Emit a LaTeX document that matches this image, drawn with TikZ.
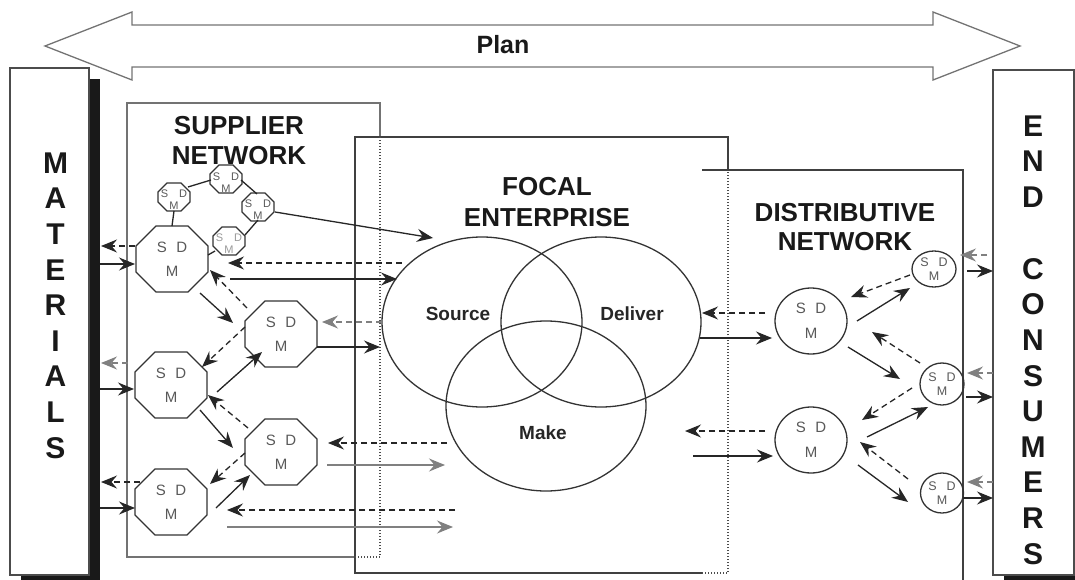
\documentclass[tikz,border=0pt]{standalone}
\usepackage{fontspec}
\setmainfont{Liberation Sans}
\usetikzlibrary{arrows.meta,shapes.geometric,calc}
\tikzset{
  ln/.style={line width=1.3pt, draw=black!85},
  arr/.style={ln, -{Stealth[length=16pt,width=13pt,inset=5.5pt]}},
  darr/.style={arr, dash pattern=on 6pt off 4pt},
  lite/.style={draw=black!50},
  boxline/.style={line width=1.4pt, draw=black!75},
  hid/.style={line width=1.1pt, draw=black!70, dash pattern=on 1pt off 2pt},
  octline/.style={line width=1.3pt, draw=black!80, line join=miter},
  bigoct/.style={rectangle, minimum width=72pt, minimum height=66pt, inner sep=0pt, outer sep=0pt, align=center, text=black!65, font=\fontsize{15}{24}\selectfont},
  smoct/.style={rectangle, minimum width=32pt, minimum height=28pt, inner sep=0pt, outer sep=0pt},
  smtext/.style={inner sep=0pt, align=center, text=black!65, font=\fontsize{11}{12}\selectfont},
  bigcirc/.style={ellipse, line width=1.3pt, draw=black!80, minimum width=72pt, minimum height=66pt, inner sep=0pt, align=center, text=black!65, font=\fontsize{15}{25}\selectfont},
  smcirc/.style={ellipse, line width=1.3pt, draw=black!80, inner sep=0pt, align=center, text=black!65, font=\fontsize{12.5}{13.5}\selectfont},
  venn/.style={ellipse, line width=1.3pt, draw=black!80, minimum width=200pt, minimum height=170pt, inner sep=0pt},
  ttl/.style={font=\fontsize{26}{31}\selectfont\bfseries, text=black!90, align=center, inner sep=0pt},
  vlab/.style={font=\fontsize{19}{22}\selectfont\bfseries, text=black!85, inner sep=0pt},
  sidelab/.style={font=\fontsize{30}{35.6}\selectfont\bfseries, text=black!90, align=center, inner sep=0pt},
  sidebox/.style={draw=black!70, line width=1.3pt, fill=white, inner sep=0pt, outer sep=0pt}
}
\newcommand{\sdmoct}[2]{%
  \draw[octline] ($(#1.north west)+(#2,0)$) -- ($(#1.north east)+(-#2,0)$) -- ($(#1.north east)+(0,#2)$) -- ($(#1.south east)+(0,-#2)$) -- ($(#1.south east)+(-#2,0)$) -- ($(#1.south west)+(#2,0)$) -- ($(#1.south west)+(0,-#2)$) -- ($(#1.north west)+(0,#2)$) -- cycle;}
\begin{document}
\begin{tikzpicture}[x=1pt,y=-1pt]
\useasboundingbox (0,0) rectangle (1075,580);
% Plan arrow
\draw[line width=1.3pt, draw=black!55, line join=miter] (45,46) -- (132,12) -- (132,25) -- (933,25) -- (933,12) -- (1020,46) -- (933,80) -- (933,67) -- (132,67) -- (132,80) -- cycle;
\node[font=\fontsize{25}{30}\selectfont\bfseries, text=black!90, inner sep=0pt] (plan) at (503,45) {Plan};
% side boxes
\fill[black!90] (21,79) rectangle (100,586);
\node[sidebox, minimum width=79pt, minimum height=507pt] (MAT) at (49.5,321.5) {};
\node[sidelab] (matlab) at (55.5,305.5) {M\\A\\T\\E\\R\\I\\A\\L\\S};
\fill[black!90] (1004,81) rectangle (1085,586);
\node[sidebox, minimum width=81pt, minimum height=505pt] (ENDC) at (1033.5,322.5) {};
\node[sidelab] (endlab) at (1033,340) {E\\N\\D\\[36.2pt]C\\O\\N\\S\\U\\M\\E\\R\\S};
% network boxes
\fill[white] (127,103) rectangle (380,557);
\fill[white] (355,137) rectangle (728,573);
\fill[white] (702,170) rectangle (963,590);
\draw[boxline, draw=black!55] (380,137) -- (380,103) -- (127,103) -- (127,557) -- (355,557);
\draw[boxline] (728,170) -- (728,137) -- (355,137) -- (355,573) -- (702,573);
\draw[boxline] (702,170) -- (963,170) -- (963,590);
\draw[hid] (355,557) -- (380,557) -- (380,137);
\draw[hid] (702,573) -- (728,573) -- (728,170);
% titles
\node[ttl, font=\fontsize{26}{30}\selectfont\bfseries] (suplab) at (239,141) {SUPPLIER\\NETWORK};
\node[ttl] (foclab) at (547,202.5) {FOCAL\\ENTERPRISE};
\node[ttl, font=\fontsize{26}{29}\selectfont\bfseries] (dislab) at (845,227) {DISTRIBUTIVE\\NETWORK};
% Venn
\node[venn] (SRC) at (482,322) {};
\node[venn] (DEL) at (601,322) {};
\node[venn] (MAKE) at (546,406) {};
\node[vlab] (srclab) at (458,314) {Source};
\node[vlab] (dellab) at (632,314) {Deliver};
\node[vlab] (makelab) at (543,433) {Make};
% supplier octagons
\node[bigoct] (O1) at (172,259) {S\hspace{9.5pt}D\\M};
\node[bigoct] (O2) at (281,334) {S\hspace{9.5pt}D\\M};
\node[bigoct] (O3) at (171,385) {S\hspace{9.5pt}D\\M};
\node[bigoct] (O4) at (281,452) {S\hspace{9.5pt}D\\M};
\node[bigoct] (O5) at (171,502) {S\hspace{9.5pt}D\\M};
\foreach \n in {O1,O2,O3,O4,O5} {\sdmoct{\n}{20}}
\node[smoct] (s1) at (174,197) {};
\node[smoct] (s2) at (226,179) {};
\node[smoct] (s3) at (258,207) {};
\node[smoct] (s4) at (229,241) {};
\foreach \n in {s1,s2,s3,s4} {\sdmoct{\n}{9}}
\node[smtext] (s1t) at ($(s1)+(0,2.5)$) {S\hspace{11pt}D\\M};
\node[smtext] (s2t) at ($(s2)+(0,3.5)$) {S\hspace{11pt}D\\M};
\node[smtext] (s3t) at ($(s3)+(0,2.5)$) {S\hspace{11pt}D\\M};
\node[smtext, text=black!40] (s4t) at ($(s4)+(0,2.5)$) {S\hspace{11pt}D\\M};
% ring links
\draw[ln] ($(s1)+(14,-10)$) -- ($(s2)+(-15,1)$);
\draw[ln] ($(s2)+(15,1)$) -- ($(s3)+(-1,-13)$);
\draw[ln] ($(s3)+(0,13)$) -- ($(s4)+(16,-6)$);
\draw[ln] (s1.south) -- (O1.north);
\draw[ln] ($(O1)+(36,-4)$) -- ($(s4)+(-14,10)$);
% supplier - materials
\draw[darr] ($(O1)+(-37,-13)$) -- ($(MAT.east)+(12,-75.5)$);
\draw[arr] ($(MAT.east)+(11,-57.5)$) -- ($(O1)+(-37,5)$);
\draw[darr,lite] ($(O3)+(-43,-22)$) -- ($(MAT.east)+(12,41.5)$);
\draw[arr] ($(MAT.east)+(11,67.5)$) -- ($(O3)+(-37,4)$);
\draw[darr] ($(O5)+(-31,-20)$) -- ($(MAT.east)+(12,160.5)$);
\draw[arr] ($(MAT.east)+(11,186.5)$) -- ($(O5)+(-36,6)$);
% supplier - focal
\draw[darr] ($(SRC)+(-80,-59)$) -- ($(O1)+(56,4)$);
\draw[arr] ($(O1)+(58,20)$) -- ($(SRC)+(-85,-43)$);
\draw[darr,lite] ($(SRC)+(-100,0)$) -- ($(O2)+(41,-12)$);
\draw[arr] ($(O2)+(36,13)$) -- ($(SRC)+(-102,25)$);
\draw[darr] ($(MAKE)+(-99,37)$) -- ($(O4)+(47,-9)$);
\draw[arr,lite] ($(O4)+(46,13)$) -- ($(MAKE)+(-101,59)$);
\coordinate (f1) at (455,510);
\coordinate (f2) at (453,527);
\draw[darr] (f1) -- ($(O5)+(56,8)$);
\draw[arr,lite] ($(O5)+(56,25)$) -- (f2);
\draw[arr] ($(s3)+(17,5)$) -- ($(SRC)+(-49,-84)$);
% octagon links
\draw[arr] ($(O1)+(28,34)$) -- ($(O2)+(-48,-11)$);
\draw[darr] ($(O2)+(-34,-26)$) -- ($(O1)+(38,11)$);
\draw[darr] ($(O2)+(-36,-7)$) -- ($(O3)+(31,-18)$);
\draw[arr] ($(O3)+(46,7)$) -- ($(O2)+(-19,18)$);
\draw[arr] ($(O3)+(29,25)$) -- ($(O4)+(-48,-4)$);
\draw[darr] ($(O4)+(-33,-24)$) -- ($(O3)+(37,10)$);
\draw[darr] ($(O4)+(-36,1)$) -- ($(O5)+(39,-18)$);
\draw[arr] ($(O5)+(45,6)$) -- ($(O4)+(-31,23)$);
% distributive network
\node[bigcirc] (C1) at (811,321) {S\hspace{9.5pt}D\\M};
\node[bigcirc] (C2) at (811,440) {S\hspace{9.5pt}D\\M};
\node[smcirc, minimum width=44pt, minimum height=36pt] (c1) at (934,269) {S\hspace{10pt}D\\M};
\node[smcirc, minimum width=44pt, minimum height=42pt] (c2) at (942,384) {S\hspace{10pt}D\\M};
\node[smcirc, minimum width=43pt, minimum height=40pt] (c3) at (942,493) {S\hspace{10pt}D\\M};
\draw[darr] ($(C1)+(-46,-8)$) -- ($(DEL)+(101,-9)$);
\draw[arr] ($(DEL)+(99,16)$) -- ($(C1)+(-39,17)$);
\coordinate (f3) at (685,431);
\coordinate (f4) at (693,456);
\draw[darr] ($(C2)+(-46,-9)$) -- (f3);
\draw[arr] (f4) -- ($(C2)+(-38,16)$);
\draw[darr] ($(c1)+(-24,6)$) -- ($(C1)+(40,-24)$);
\draw[arr] ($(C1)+(46,0)$) -- ($(c1)+(-24,19)$);
\draw[arr] ($(C1)+(37,26)$) -- ($(c2)+(-42,-5)$);
\draw[darr] ($(c2)+(-22,-21)$) -- ($(C1)+(61,11)$);
\draw[darr] ($(c2)+(-30,4)$) -- ($(C2)+(51,-20)$);
\draw[arr] ($(C2)+(56,-3)$) -- ($(c2)+(-14,23)$);
\draw[arr] ($(C2)+(47,25)$) -- ($(c3)+(-34,9)$);
\draw[darr] ($(c3)+(-34,-14)$) -- ($(C2)+(49,2)$);
% end consumers
\draw[darr,lite] ($(ENDC.west)+(-6,-67.5)$) -- ($(c1)+(26,-14)$);
\draw[arr] ($(c1)+(33,2)$) -- ($(ENDC.west)+(0,-51.5)$);
\draw[darr,lite] ($(ENDC.west)+(0,50.5)$) -- ($(c2)+(25,-11)$);
\draw[arr] ($(c2)+(24,13)$) -- ($(ENDC.west)+(0,74.5)$);
\draw[darr,lite] ($(ENDC.west)+(0,159.5)$) -- ($(c3)+(25,-11)$);
\draw[arr] ($(c3)+(21,5)$) -- ($(ENDC.west)+(0,175.5)$);
\end{tikzpicture}
\end{document}
